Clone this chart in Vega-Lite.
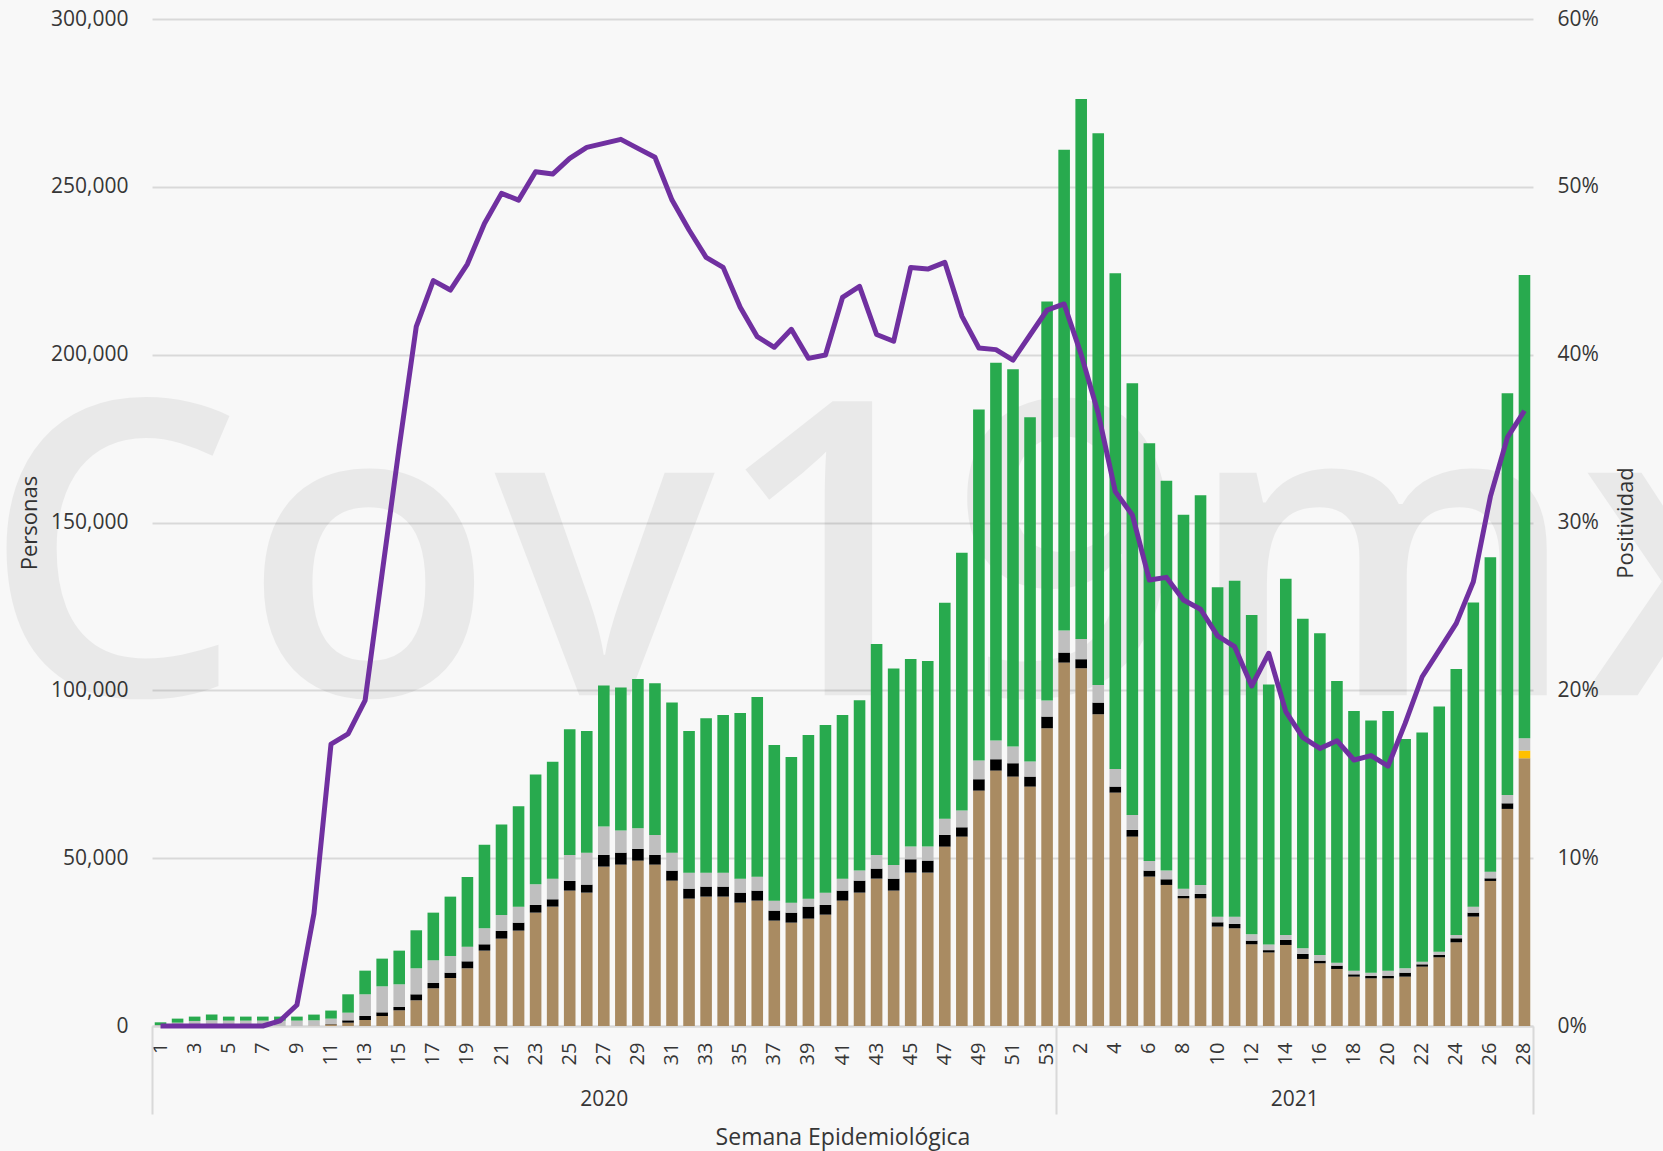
{
  "$schema": "https://vega.github.io/schema/vega-lite/v6.json",
  "width": 1381,
  "height": 1007,
  "autosize": {"type": "none"},
  "padding": {"left": 152, "top": 19, "right": 130, "bottom": 125},
  "background": "#f8f8f8",
  "config": {"font": "Open Sans", "view": {"stroke": null}},
  "data": {"values": [
    {"semana":"2020-01","confirmados":0,"dictaminados":0,"invalidos":0,"pendientes":300,"resultado_negativo":800,"positividad":0},
    {"semana":"2020-02","confirmados":0,"dictaminados":0,"invalidos":0,"pendientes":1000,"resultado_negativo":1200,"positividad":0},
    {"semana":"2020-03","confirmados":0,"dictaminados":0,"invalidos":0,"pendientes":1500,"resultado_negativo":1300,"positividad":0},
    {"semana":"2020-04","confirmados":0,"dictaminados":0,"invalidos":0,"pendientes":1700,"resultado_negativo":1700,"positividad":0},
    {"semana":"2020-05","confirmados":0,"dictaminados":0,"invalidos":0,"pendientes":1600,"resultado_negativo":1200,"positividad":0},
    {"semana":"2020-06","confirmados":0,"dictaminados":0,"invalidos":0,"pendientes":1600,"resultado_negativo":1200,"positividad":0},
    {"semana":"2020-07","confirmados":0,"dictaminados":0,"invalidos":0,"pendientes":1600,"resultado_negativo":1200,"positividad":0},
    {"semana":"2020-08","confirmados":0,"dictaminados":0,"invalidos":0,"pendientes":1600,"resultado_negativo":1200,"positividad":0.003},
    {"semana":"2020-09","confirmados":0,"dictaminados":0,"invalidos":0,"pendientes":1600,"resultado_negativo":1200,"positividad":0.0125},
    {"semana":"2020-10","confirmados":100,"dictaminados":0,"invalidos":0,"pendientes":1600,"resultado_negativo":1700,"positividad":0.067},
    {"semana":"2020-11","confirmados":500,"dictaminados":100,"invalidos":0,"pendientes":1600,"resultado_negativo":2400,"positividad":0.168},
    {"semana":"2020-12","confirmados":990,"dictaminados":700,"invalidos":0,"pendientes":2280,"resultado_negativo":5470,"positividad":0.174},
    {"semana":"2020-13","confirmados":1790,"dictaminados":1190,"invalidos":0,"pendientes":6460,"resultado_negativo":7050,"positividad":0.194},
    {"semana":"2020-14","confirmados":2980,"dictaminados":1090,"invalidos":0,"pendientes":7750,"resultado_negativo":8250,"positividad":0.27},
    {"semana":"2020-15","confirmados":4670,"dictaminados":990,"invalidos":0,"pendientes":6760,"resultado_negativo":10030,"positividad":0.345},
    {"semana":"2020-16","confirmados":7650,"dictaminados":1790,"invalidos":0,"pendientes":7750,"resultado_negativo":11320,"positividad":0.4167},
    {"semana":"2020-17","confirmados":11230,"dictaminados":1580,"invalidos":0,"pendientes":6760,"resultado_negativo":14200,"positividad":0.4441},
    {"semana":"2020-18","confirmados":14300,"dictaminados":1590,"invalidos":0,"pendientes":4970,"resultado_negativo":17680,"positividad":0.4385},
    {"semana":"2020-19","confirmados":17190,"dictaminados":2080,"invalidos":0,"pendientes":4370,"resultado_negativo":20760,"positividad":0.454},
    {"semana":"2020-20","confirmados":22450,"dictaminados":1890,"invalidos":0,"pendientes":4770,"resultado_negativo":24920,"positividad":0.4782},
    {"semana":"2020-21","confirmados":26020,"dictaminados":2290,"invalidos":0,"pendientes":4770,"resultado_negativo":26920,"positividad":0.4961},
    {"semana":"2020-22","confirmados":28410,"dictaminados":2380,"invalidos":0,"pendientes":4770,"resultado_negativo":29870,"positividad":0.4921},
    {"semana":"2020-23","confirmados":33770,"dictaminados":2290,"invalidos":0,"pendientes":6160,"resultado_negativo":32690,"positividad":0.509},
    {"semana":"2020-24","confirmados":35560,"dictaminados":2190,"invalidos":0,"pendientes":6150,"resultado_negativo":34810,"positividad":0.5076},
    {"semana":"2020-25","confirmados":40330,"dictaminados":2880,"invalidos":0,"pendientes":7750,"resultado_negativo":37440,"positividad":0.517},
    {"semana":"2020-26","confirmados":39730,"dictaminados":2390,"invalidos":0,"pendientes":9530,"resultado_negativo":36250,"positividad":0.5235},
    {"semana":"2020-27","confirmados":47480,"dictaminados":3480,"invalidos":0,"pendientes":8440,"resultado_negativo":42070,"positividad":0.5259},
    {"semana":"2020-28","confirmados":48080,"dictaminados":3570,"invalidos":0,"pendientes":6560,"resultado_negativo":42630,"positividad":0.5283},
    {"semana":"2020-29","confirmados":49270,"dictaminados":3480,"invalidos":0,"pendientes":6150,"resultado_negativo":44460,"positividad":0.5229},
    {"semana":"2020-30","confirmados":48080,"dictaminados":2880,"invalidos":0,"pendientes":5960,"resultado_negativo":45180,"positividad":0.5176},
    {"semana":"2020-31","confirmados":43310,"dictaminados":2980,"invalidos":0,"pendientes":5360,"resultado_negativo":44760,"positividad":0.4921},
    {"semana":"2020-32","confirmados":37940,"dictaminados":2980,"invalidos":0,"pendientes":4770,"resultado_negativo":42210,"positividad":0.4743},
    {"semana":"2020-33","confirmados":38540,"dictaminados":2980,"invalidos":0,"pendientes":4170,"resultado_negativo":45980,"positividad":0.458},
    {"semana":"2020-34","confirmados":38540,"dictaminados":2980,"invalidos":0,"pendientes":4170,"resultado_negativo":46930,"positividad":0.452},
    {"semana":"2020-35","confirmados":36750,"dictaminados":2980,"invalidos":0,"pendientes":4170,"resultado_negativo":49350,"positividad":0.4282},
    {"semana":"2020-36","confirmados":37350,"dictaminados":2980,"invalidos":0,"pendientes":4170,"resultado_negativo":53490,"positividad":0.4107},
    {"semana":"2020-37","confirmados":31390,"dictaminados":2980,"invalidos":0,"pendientes":2980,"resultado_negativo":46390,"positividad":0.4044},
    {"semana":"2020-38","confirmados":30790,"dictaminados":2980,"invalidos":0,"pendientes":2980,"resultado_negativo":43410,"positividad":0.4151},
    {"semana":"2020-39","confirmados":31980,"dictaminados":3580,"invalidos":0,"pendientes":2380,"resultado_negativo":48780,"positividad":0.3978},
    {"semana":"2020-40","confirmados":33170,"dictaminados":2890,"invalidos":0,"pendientes":3670,"resultado_negativo":49970,"positividad":0.3998},
    {"semana":"2020-41","confirmados":37350,"dictaminados":2980,"invalidos":0,"pendientes":3570,"resultado_negativo":48720,"positividad":0.4341},
    {"semana":"2020-42","confirmados":39730,"dictaminados":3580,"invalidos":0,"pendientes":2980,"resultado_negativo":50750,"positividad":0.4407},
    {"semana":"2020-43","confirmados":43900,"dictaminados":2990,"invalidos":0,"pendientes":4070,"resultado_negativo":62840,"positividad":0.412},
    {"semana":"2020-44","confirmados":40330,"dictaminados":3570,"invalidos":0,"pendientes":4080,"resultado_negativo":58550,"positividad":0.408},
    {"semana":"2020-45","confirmados":45690,"dictaminados":3980,"invalidos":0,"pendientes":3770,"resultado_negativo":55930,"positividad":0.452},
    {"semana":"2020-46","confirmados":45690,"dictaminados":3580,"invalidos":0,"pendientes":4170,"resultado_negativo":55300,"positividad":0.451},
    {"semana":"2020-47","confirmados":53440,"dictaminados":3480,"invalidos":0,"pendientes":4860,"resultado_negativo":64340,"positividad":0.455},
    {"semana":"2020-48","confirmados":56420,"dictaminados":2780,"invalidos":0,"pendientes":4970,"resultado_negativo":76810,"positividad":0.423},
    {"semana":"2020-49","confirmados":70130,"dictaminados":3380,"invalidos":0,"pendientes":5560,"resultado_negativo":104580,"positividad":0.404},
    {"semana":"2020-50","confirmados":76090,"dictaminados":3380,"invalidos":0,"pendientes":5560,"resultado_negativo":112530,"positividad":0.403},
    {"semana":"2020-51","confirmados":74300,"dictaminados":3980,"invalidos":0,"pendientes":4960,"resultado_negativo":112450,"positividad":0.3968},
    {"semana":"2020-52","confirmados":71320,"dictaminados":2980,"invalidos":0,"pendientes":4470,"resultado_negativo":102610,"positividad":0.4117},
    {"semana":"2020-53","confirmados":88700,"dictaminados":3480,"invalidos":0,"pendientes":4770,"resultado_negativo":118900,"positividad":0.4266},
    {"semana":"2021-01","confirmados":108270,"dictaminados":2980,"invalidos":0,"pendientes":6550,"resultado_negativo":143250,"positividad":0.4302},
    {"semana":"2021-02","confirmados":106580,"dictaminados":2690,"invalidos":0,"pendientes":6060,"resultado_negativo":160820,"positividad":0.40},
    {"semana":"2021-03","confirmados":92870,"dictaminados":3480,"invalidos":0,"pendientes":5270,"resultado_negativo":164380,"positividad":0.365},
    {"semana":"2021-04","confirmados":69530,"dictaminados":1790,"invalidos":0,"pendientes":5270,"resultado_negativo":147700,"positividad":0.3184},
    {"semana":"2021-05","confirmados":56420,"dictaminados":1990,"invalidos":0,"pendientes":4470,"resultado_negativo":128630,"positividad":0.3045},
    {"semana":"2021-06","confirmados":44500,"dictaminados":1790,"invalidos":0,"pendientes":2880,"resultado_negativo":124460,"positividad":0.2657},
    {"semana":"2021-07","confirmados":42020,"dictaminados":1690,"invalidos":0,"pendientes":2580,"resultado_negativo":116120,"positividad":0.2673},
    {"semana":"2021-08","confirmados":38040,"dictaminados":700,"invalidos":0,"pendientes":2180,"resultado_negativo":111360,"positividad":0.2538},
    {"semana":"2021-09","confirmados":38040,"dictaminados":1300,"invalidos":0,"pendientes":2680,"resultado_negativo":116120,"positividad":0.2483},
    {"semana":"2021-10","confirmados":29600,"dictaminados":1300,"invalidos":0,"pendientes":1680,"resultado_negativo":98140,"positividad":0.2324},
    {"semana":"2021-11","confirmados":29110,"dictaminados":1290,"invalidos":0,"pendientes":2180,"resultado_negativo":100030,"positividad":0.226},
    {"semana":"2021-12","confirmados":24340,"dictaminados":1090,"invalidos":0,"pendientes":1890,"resultado_negativo":95160,"positividad":0.2026},
    {"semana":"2021-13","confirmados":21900,"dictaminados":700,"invalidos":0,"pendientes":1700,"resultado_negativo":77470,"positividad":0.2221},
    {"semana":"2021-14","confirmados":24140,"dictaminados":1490,"invalidos":0,"pendientes":1490,"resultado_negativo":106090,"positividad":0.1873},
    {"semana":"2021-15","confirmados":19970,"dictaminados":1490,"invalidos":0,"pendientes":1690,"resultado_negativo":98140,"positividad":0.172},
    {"semana":"2021-16","confirmados":18680,"dictaminados":790,"invalidos":0,"pendientes":1690,"resultado_negativo":95850,"positividad":0.1654},
    {"semana":"2021-17","confirmados":16990,"dictaminados":990,"invalidos":0,"pendientes":890,"resultado_negativo":83940,"positividad":0.17},
    {"semana":"2021-18","confirmados":14700,"dictaminados":700,"invalidos":0,"pendientes":1090,"resultado_negativo":77380,"positividad":0.1585},
    {"semana":"2021-19","confirmados":14200,"dictaminados":700,"invalidos":0,"pendientes":990,"resultado_negativo":75090,"positividad":0.1611},
    {"semana":"2021-20","confirmados":14200,"dictaminados":700,"invalidos":0,"pendientes":1590,"resultado_negativo":77380,"positividad":0.1549},
    {"semana":"2021-21","confirmados":14700,"dictaminados":1190,"invalidos":0,"pendientes":1300,"resultado_negativo":68340,"positividad":0.1803},
    {"semana":"2021-22","confirmados":17680,"dictaminados":700,"invalidos":0,"pendientes":790,"resultado_negativo":68240,"positividad":0.2081},
    {"semana":"2021-23","confirmados":20470,"dictaminados":690,"invalidos":0,"pendientes":990,"resultado_negativo":73010,"positividad":0.224},
    {"semana":"2021-24","confirmados":24930,"dictaminados":1200,"invalidos":0,"pendientes":990,"resultado_negativo":79270,"positividad":0.2399},
    {"semana":"2021-25","confirmados":32580,"dictaminados":1190,"invalidos":0,"pendientes":1790,"resultado_negativo":90590,"positividad":0.2647},
    {"semana":"2021-26","confirmados":43210,"dictaminados":790,"invalidos":0,"pendientes":1990,"resultado_negativo":93670,"positividad":0.3154},
    {"semana":"2021-27","confirmados":64670,"dictaminados":1680,"invalidos":0,"pendientes":2490,"resultado_negativo":119690,"positividad":0.3507},
    {"semana":"2021-28","confirmados":79760,"dictaminados":0,"invalidos":2290,"pendientes":3670,"resultado_negativo":137980,"positividad":0.3666}
  ]},
  "layer": [
    {
      "data": {"values": [{"marca": "Cov19mx"}]},
      "mark": {"type": "text", "font": "Open Sans", "fontWeight": 600, "fontSize": 412, "color": "#000000", "opacity": 0.055, "align": "left", "baseline": "alphabetic", "dx": -170, "dy": 5},
      "encoding": {
        "text": {"field": "marca"},
        "x": {"datum": 0, "type": "quantitative", "scale": {"domain": [0, 81], "nice": false, "zero": false}, "axis": null},
        "y": {"datum": 100000, "type": "quantitative", "scale": {"domain": [0, 300000]}, "axis": null}
      }
    },
    {
      "transform": [{"fold": ["confirmados", "dictaminados", "invalidos", "pendientes", "resultado_negativo"], "as": ["tipo", "personas"]}],
      "mark": {"type": "bar"},
      "encoding": {
        "x": {"field": "semana", "type": "nominal", "scale": {"paddingInner": 0.32, "paddingOuter": 0.16},
          "axis": {"orient": "bottom", "title": null, "ticks": false, "grid": false, "labelAngle": 270, "labelPadding": 16, "labelFontSize": 20, "labelColor": "#363636", "labelOverlap": false,
            "labelExpr": "(substring(datum.value,0,4) == '2020') == (toNumber(substring(datum.value,5)) % 2 == 1) ? toString(toNumber(substring(datum.value,5))) : ''",
            "domainColor": "#d9d9d9", "domainWidth": 2}},
        "y": {"field": "personas", "type": "quantitative", "stack": "zero", "scale": {"domain": [0, 300000]},
          "axis": {"orient": "left", "values": [0, 50000, 100000, 150000, 200000, 250000, 300000], "format": ",.0f", "ticks": false, "domain": false, "grid": true, "gridColor": "#d9d9d9", "gridWidth": 2, "labelPadding": 24, "labelFontSize": 21, "labelColor": "#363636",
            "title": "Personas", "titleFontSize": 22, "titleFontWeight": "normal", "titleColor": "#363636", "titleAngle": 270, "titleX": -123, "titleY": 503.5, "titleAlign": "center", "titleBaseline": "middle"}},
        "color": {"field": "tipo", "type": "nominal", "legend": null,
          "scale": {"domain": ["confirmados", "dictaminados", "invalidos", "pendientes", "resultado_negativo"], "range": ["#a98b62", "#000000", "#ffc000", "#bfbfbf", "#28aa4e"]}},
        "order": {"field": "tipo", "sort": "ascending"}
      }
    },
    {
      "mark": {"type": "line", "color": "#7030a0", "strokeWidth": 5, "strokeJoin": "round"},
      "encoding": {
        "x": {"field": "semana", "type": "nominal", "scale": {"type": "point", "padding": 0.5}, "axis": null},
        "y": {"field": "positividad", "type": "quantitative", "scale": {"domain": [0, 0.6]},
          "axis": {"orient": "right", "values": [0, 0.1, 0.2, 0.3, 0.4, 0.5, 0.6], "format": ".0%", "ticks": false, "domain": false, "grid": false, "labelPadding": 24, "labelFontSize": 21, "labelColor": "#363636",
            "title": "Positividad", "titleFontSize": 22, "titleFontWeight": "normal", "titleColor": "#363636", "titleAngle": 270, "titleX": 92, "titleY": 503.5, "titleAlign": "center", "titleBaseline": "middle"}}
      }
    },
    {
      "data": {"values": [{"posicion": 26.5, "anio": "2020"}, {"posicion": 67, "anio": "2021"}]},
      "mark": {"type": "point", "opacity": 0},
      "encoding": {
        "x": {"field": "posicion", "type": "quantitative", "scale": {"domain": [0, 81], "nice": false, "zero": false},
          "axis": {"orient": "bottom", "values": [0, 26.5, 53, 67, 81], "labelExpr": "datum.value == 26.5 ? '2020' : (datum.value == 67 ? '2021' : '')",
            "tickSize": 88, "tickColor": "#d9d9d9", "tickWidth": 2,
            "tickOpacity": {"condition": {"test": "datum.value == 26.5 || datum.value == 67", "value": 0}, "value": 1},
            "domain": false, "grid": false, "labelPadding": -26, "labelFontSize": 21, "labelColor": "#363636", "labelOverlap": false, "labelFlush": false,
            "title": "Semana Epidemiológica", "titleFontSize": 23, "titleFontWeight": "normal", "titleColor": "#363636", "titleX": 690.5, "titleY": 111, "titleAlign": "center", "titleBaseline": "middle"}}
      }
    }
  ],
  "resolve": {"scale": {"x": "independent", "y": "independent"}}
}
